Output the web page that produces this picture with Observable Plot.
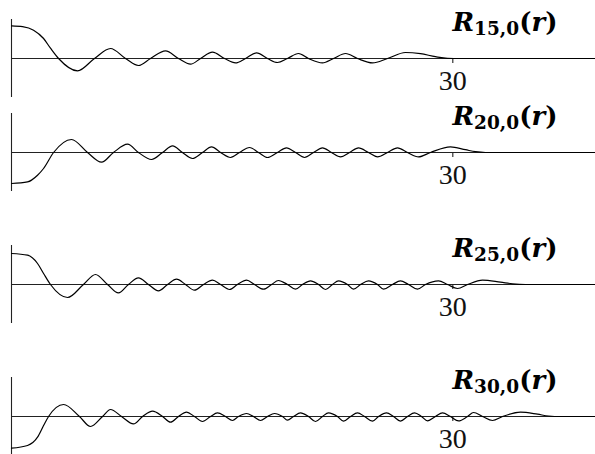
<!DOCTYPE html>
<html><head><meta charset="utf-8">
<script src="https://cdn.jsdelivr.net/npm/d3@7"></script>
<script src="https://cdn.jsdelivr.net/npm/@observablehq/plot@0.6"></script>
<style>
html,body{margin:0;padding:0;background:#fff;overflow:hidden}
#chart{position:relative;width:595px;height:454px;overflow:hidden;background:#fff}
#chart svg{position:absolute;left:0}
#chart svg text.tick, #chart svg text.tick tspan{font-family:"Liberation Serif","DejaVu Serif",serif !important}
#chart svg text.ttl, #chart svg text.ttl tspan{font-family:"DejaVu Serif","Liberation Serif",serif !important}
</style></head><body><div id="chart"></div>
<script>
// Values (r along the axis, R in arbitrary units)
const r15 = [0, 0.75, 1.50, 2.18, 2.65, 3.20, 4.49, 5.64, 6.73, 7.75, 8.63, 9.45, 10.47, 11.35, 12.17, 12.85, 13.66, 14.48, 15.23, 15.91, 16.66, 17.40, 18.08, 18.76, 19.51, 20.19, 21.14, 21.89, 22.71, 23.52, 24.54, 25.56, 26.78, 27.80, 28.82, 29.64, 30.52, 39.70];
const v15 = [3.26, 3.18, 2.83, 2.0, 1.03, 0, -1.24, 0, 1.0, 0, -0.7, 0, 0.76, 0, -0.57, 0, 0.63, 0, -0.44, 0, 0.56, 0, -0.4, 0, 0.5, 0, -0.44, 0, 0.5, 0, -0.44, 0, 0.6, 0.48, 0.18, 0.02, 0, 0];

const r20 = [0, 1.09, 1.77, 2.18, 2.86, 4.08, 5.17, 6.12, 6.93, 7.89, 8.63, 9.52, 10.27, 10.95, 11.62, 12.30, 12.98, 13.60, 14.21, 14.89, 15.50, 16.18, 16.79, 17.40, 18.08, 18.69, 19.31, 19.92, 20.53, 21.14, 21.75, 22.37, 22.98, 23.59, 24.27, 24.88, 25.56, 26.24, 26.92, 27.67, 28.48, 29.84, 30.86, 31.54, 32.22, 39.70];
const v20 = [-3.10, -2.94, -2.27, -1.6, 0, 1.30, 0, -0.97, 0, 0.83, 0, -0.70, 0, 0.66, 0, -0.60, 0, 0.56, 0, -0.50, 0, 0.50, 0, -0.50, 0, 0.46, 0, -0.50, 0, 0.46, 0, -0.44, 0, 0.46, 0, -0.44, 0, 0.46, 0, -0.44, 0, 0.56, 0.28, 0.08, 0, 0];

const r25 = [0, 1.09, 1.77, 2.18, 2.65, 3.81, 4.89, 5.71, 6.53, 7.27, 7.95, 8.63, 9.31, 9.99, 10.61, 11.22, 11.83, 12.44, 13.05, 13.66, 14.21, 14.82, 15.36, 15.98, 16.52, 17.13, 17.68, 18.15, 18.76, 19.31, 19.78, 20.33, 20.87, 21.35, 21.82, 22.23, 22.84, 23.25, 23.73, 24.27, 24.88, 25.29, 25.90, 26.44, 26.99, 27.60, 28.14, 29.03, 29.64, 30.32, 31.00, 32.02, 33.24, 34.06, 34.94, 39.70];
const v25 = [3.10, 2.93, 2.10, 1.10, 0, -1.30, 0, 1.00, 0, -0.84, 0, 0.66, 0, -0.64, 0, 0.53, 0, -0.57, 0, 0.43, 0, -0.50, 0, 0.43, 0, -0.47, 0, 0.40, 0, -0.47, 0, 0.36, 0, -0.50, 0, 0.36, 0, -0.47, 0, 0.36, 0, -0.47, 0, 0.36, 0, -0.47, 0, 0.36, 0, -0.40, 0, 0.43, 0.23, 0.07, 0, 0];

const r30 = [0, 1.09, 1.77, 2.18, 2.52, 3.54, 4.62, 5.37, 6.19, 6.73, 7.48, 8.29, 8.91, 9.59, 10.27, 10.81, 11.35, 11.90, 12.44, 12.98, 13.53, 14.00, 14.55, 15.02, 15.43, 15.98, 16.45, 16.93, 17.40, 17.88, 18.42, 18.76, 19.17, 19.65, 20.19, 20.67, 21.14, 21.55, 22.16, 22.57, 23.05, 23.52, 24.00, 24.54, 24.95, 25.49, 25.97, 26.44, 26.92, 27.40, 27.87, 28.28, 28.82, 29.30, 29.84, 30.39, 31.00, 31.41, 32.02, 32.70, 33.38, 34.60, 35.76, 36.51, 37.32, 39.70];
const v30 = [-3.17, -2.90, -2.07, -0.90, 0, 1.20, 0, -1.00, 0, 0.70, 0, -0.74, 0, 0.53, 0, -0.57, 0, 0.43, 0, -0.50, 0, 0.36, 0, -0.40, 0, 0.30, 0, -0.40, 0, 0.30, 0, -0.37, 0, 0.36, 0, -0.50, 0, 0.36, 0, -0.47, 0, 0.36, 0, -0.47, 0, 0.36, 0, -0.47, 0, 0.36, 0, -0.44, 0, 0.36, 0, -0.44, 0, 0.40, 0, -0.40, 0, 0.43, 0.23, 0.05, 0, 0];

const subscripts = ["15,0", "20,0", "25,0", "30,0"];
const xTicks = [30];
const xDomain = [0, 39.7];
const yDomain = [-3.9, 3.9];

const series = [[r15, v15], [r20, v20], [r25, v25], [r30, v30]];
const rowTops = [8.3, 102.3, 234.3, 366.3]; // layout: top of each panel's svg

const chart = document.getElementById("chart");

series.forEach(([rs, vs], i) => {
  const data = rs.map((r, j) => ({r, v: vs[j]}));
  const label = "R" + subscripts[i] + "(r)";
  const svg = Plot.plot({
    width: 595,
    height: 100,
    marginLeft: 11,
    marginRight: 0,
    marginTop: 11,
    marginBottom: 11,
    style: {background: "transparent", overflow: "visible"},
    x: {domain: xDomain, axis: null},
    y: {domain: yDomain, axis: null},
    marks: [
      Plot.ruleY([0], {stroke: "#222", strokeWidth: 1.1}),
      Plot.ruleX([0], {stroke: "#222", strokeWidth: 1.1}),
      Plot.ruleX(xTicks, {x: d => d, y1: 0, y2: 0, insetBottom: -5, stroke: "#222", strokeWidth: 1.1}),
      Plot.text(xTicks, {x: d => d, y: 0, dy: 23, text: d => String(d), fontSize: 28, fill: "#111"}),
      Plot.line(data, {x: "r", y: "v", curve: "monotone-x", stroke: "#000", strokeWidth: 1.2}),
      Plot.text([label], {frameAnchor: "right", y: 0, dx: -38, dy: -28, lineAnchor: "bottom", textAnchor: "end",
        text: d => d, fontSize: 26, fontWeight: "bold", fontStyle: "italic", fill: "#000"})
    ]
  });
  svg.style.top = rowTops[i] + "px";
  d3.select(svg).selectAll("text").filter(function() { return this.textContent === String(xTicks[0]); }).classed("tick", true);
  // typeset the title with a subscript
  d3.select(svg).selectAll("text").filter(function() { return this.textContent === label; }).each(function() {
    const t = d3.select(this).classed("ttl", true);
    t.text(null);
    t.append("tspan").attr("font-style", "italic").text("R");
    t.append("tspan").attr("font-style", "normal").attr("font-size", 18.5).attr("dy", 4).text(subscripts[i]);
    t.append("tspan").attr("font-style", "normal").attr("dy", -4).text("(");
    t.append("tspan").attr("font-style", "italic").text("r");
    t.append("tspan").attr("font-style", "normal").text(")");
  });
  chart.appendChild(svg);
});
</script>
</body></html>
